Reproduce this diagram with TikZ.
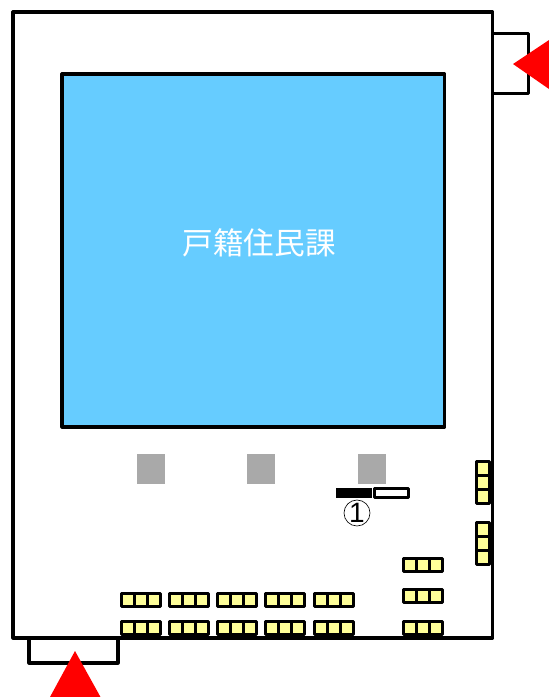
\documentclass[tikz,border=0pt]{standalone}
\usepackage{fontspec}
\setmainfont{Liberation Sans}
\newfontfamily\cjk{Noto Sans CJK JP}
\definecolor{roomblue}{HTML}{66CCFF}
\definecolor{cellyellow}{HTML}{FFFF99}
\definecolor{pillar}{HTML}{A9A9A9}
\tikzset{
  wall/.style={draw=black,line width=2.4pt,line join=round},
  cell/.style={draw=black,fill=cellyellow,line width=2.3pt,line join=round},
  post/.style={fill=pillar,draw=none},
  mark arrow/.style={fill=red,draw=none}
}
\newcommand{\hgroup}[2]{% x y: three cells across
  \foreach \i in {0,1,2}{
    \draw[cell] ({#1+\i*13},#2) rectangle ({#1+(\i+1)*13},#2+13);
  }
}
\newcommand{\vgroup}[2]{% x y: three cells down
  \foreach \i in {0,1,2}{
    \draw[cell] (#1,{#2+\i*14}) rectangle (#1+13,{#2+(\i+1)*14});
  }
}
\begin{document}
\begin{tikzpicture}[x=0.75pt,y=-0.75pt]
\useasboundingbox (0,0) rectangle (549,697);
% entrance stubs
\draw[wall] (29,638) -- (29,663) -- (118,663) -- (118,638);
\draw[wall] (492,33.5) -- (528.5,33.5) -- (528.5,93.5) -- (492,93.5);
% building
\draw[wall] (13,12) rectangle (492.5,638);
% room
\draw[wall,fill=roomblue] (62,74) rectangle (444.5,427);
\node[text=white,font=\cjk\fontsize{23}{23}\selectfont,inner sep=0pt] (roomlabel) at (259,243) {戸籍住民課};
% pillars
\fill[post] (137,454) rectangle (165,484);
\fill[post] (247,454) rectangle (275,484);
\fill[post] (358,454) rectangle (386,484);
% counter marks
\fill[black] (336,488) rectangle (372,498);
\draw[draw=black,fill=white,line width=2.3pt,line join=round] (374.5,488.5) rectangle (408.5,497.5);
\node[draw=black,circle,line width=0.5pt,minimum size=19.5pt,inner sep=0pt,font=\fontsize{21}{21}\selectfont] (one) at (357,513) {1};
% yellow groups
\foreach \xa in {121.5,169.5,217.5,265.5,314.5}{
  \hgroup{\xa}{593.5}
  \hgroup{\xa}{621.5}
}
\hgroup{403.5}{558.5}
\hgroup{403.5}{589.5}
\hgroup{403.5}{621.5}
\vgroup{476.5}{461.5}
\vgroup{476.5}{522.5}
% red arrows
\fill[mark arrow] (75,651) -- (100.5,697) -- (50,697) -- cycle;
\fill[mark arrow] (513,64) -- (549,40) -- (549,89) -- cycle;
\end{tikzpicture}
\end{document}
